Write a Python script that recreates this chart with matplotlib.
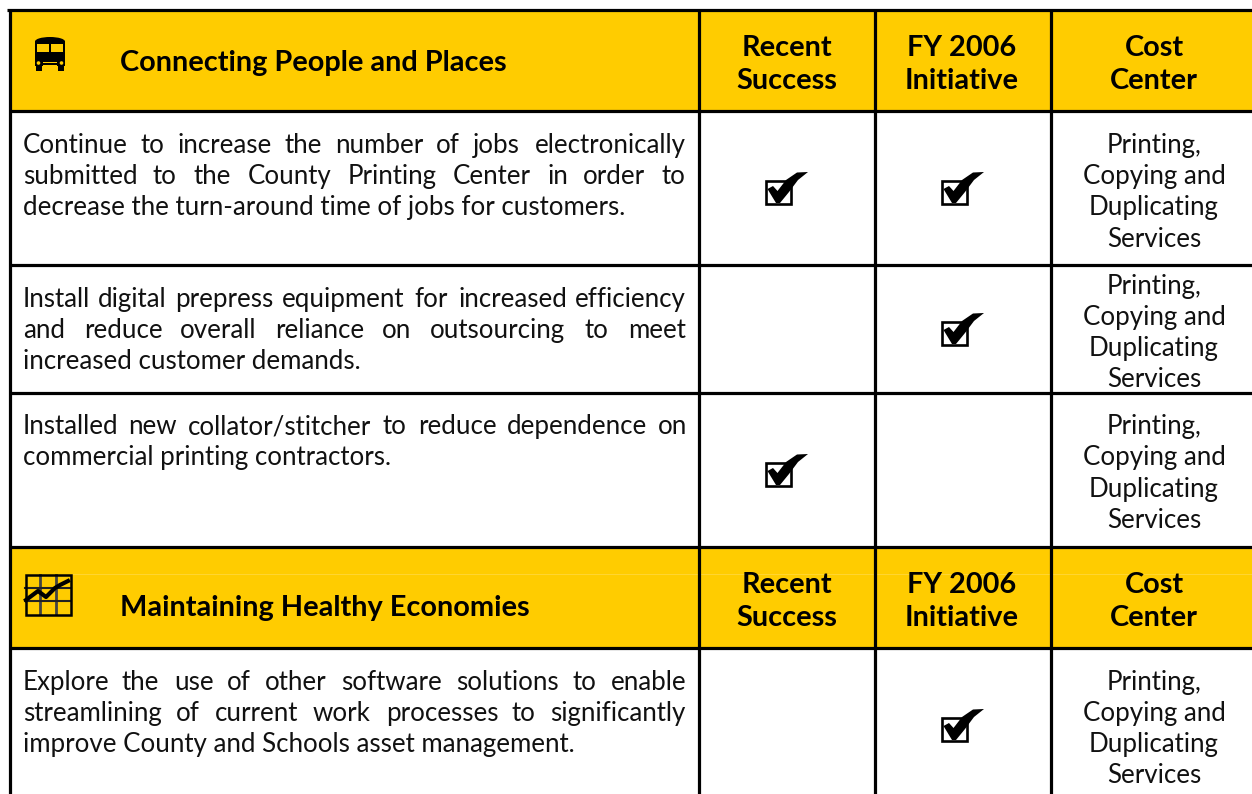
import matplotlib
matplotlib.use("Agg")
import matplotlib.pyplot as plt
from matplotlib.patches import Rectangle, Polygon, Circle, Ellipse
from matplotlib.textpath import TextPath
from matplotlib.font_manager import FontProperties

# ---- table content ----
section_titles = ["Connecting People and Places", "Maintaining Healthy Economies"]
col_headers = [["Recent", "Success"], ["FY 2006", "Initiative"], ["Cost", "Center"]]
row_lines = [
    ["Continue to increase the number of jobs electronically",
     "submitted to the County Printing Center in order to",
     "decrease the turn-around time of jobs for customers."],
    ["Install digital prepress equipment for increased efficiency",
     "and reduce overall reliance on outsourcing to meet",
     "increased customer demands."],
    ["Installed new collator/stitcher to reduce dependence on",
     "commercial printing contractors."],
    ["Explore the use of other software solutions to enable",
     "streamlining of current work processes to significantly",
     "improve County and Schools asset management."],
]
recent_success = [True, False, True, False]
fy2006_initiative = [True, True, False, True]
cost_center = ["Printing,", "Copying and", "Duplicating", "Services"]

# ---- layout (pixels) ----
W, H = 1252, 794
YELLOW = "#FFCC00"
FONT = "Lato"
BODY = 18.6
HEAD = 20.8
LINE_W = 2.3
hlines = [10, 110.7, 265, 393, 547, 648.3]
vlines = [699, 874.5, 1050.5]
col_cx = [787, 962, 1154]
head_y = [[48, 81], [585, 618]]
title_y = [63, 608]
row_text_y = [[145.5, 176.5, 207.5], [299.5, 330.5, 361.5], [426.5, 457.5], [682.5, 713.5, 744.5]]
cost_y = [[145.5, 176.5, 207.5, 239.5], [286.5, 317.5, 348.5, 379.5],
          [426.5, 457.5, 489.5, 520.5], [682.5, 713.5, 744.5, 775.5]]
check_top = [172, 313, 454, 709]
check_x = [765, 941]
LEFT, RIGHT = 23, 684

fig = plt.figure(figsize=(W / 100, H / 100), dpi=100, facecolor="white")
ax = fig.add_axes([0, 0, 1, 1])
ax.set_xlim(0, W)
ax.set_ylim(H, 0)
ax.axis("off")

ax.add_patch(Rectangle((10, 11), W, 99, fc=YELLOW, ec="none", zorder=1))
ax.add_patch(Rectangle((10, 548), W, 100, fc=YELLOW, ec="none", zorder=1))

for y in hlines:
    ax.plot([7 if y < 20 else 9, W], [y, y], color="black", lw=LINE_W, solid_capstyle="butt", zorder=3)
ax.plot([9.7, 9.7], [10, H], color="black", lw=LINE_W, solid_capstyle="butt", zorder=3)
for x in vlines:
    ax.plot([x, x], [10, H], color="black", lw=LINE_W, solid_capstyle="butt", zorder=3)


def word_w(s, size):
    return TextPath((0, 0), s, size=size, prop=FontProperties(family=FONT)).get_extents().width * 100 / 72


def justified(line, y, size):
    words = line.split(" ")
    widths = [word_w(w, size) for w in words]
    gap = (RIGHT - LEFT - sum(widths)) / (len(words) - 1)
    x = LEFT
    for w, wd in zip(words, widths):
        ax.text(x, y, w, fontsize=size, family=FONT, ha="left", va="center", color="#111111", zorder=4)
        x += wd + gap


for lines, ys in zip(row_lines, row_text_y):
    for i, (line, y) in enumerate(zip(lines, ys)):
        if i < len(lines) - 1:
            justified(line, y, BODY)
        else:
            ax.text(LEFT, y, line, fontsize=BODY, family=FONT, ha="left", va="center", color="#111111", zorder=4)

for ys in cost_y:
    for line, y in zip(cost_center, ys):
        ax.text(col_cx[2], y, line, fontsize=BODY, family=FONT, ha="center", va="center", color="#111111", zorder=4)

for title, y in zip(section_titles, title_y):
    ax.text(120, y, title, fontsize=HEAD, family=FONT, weight="bold", ha="left", va="center", color="black", zorder=4)

for ys in head_y:
    for cx, lines in zip(col_cx, col_headers):
        for line, y in zip(lines, ys):
            ax.text(cx, y, line, fontsize=HEAD, family=FONT, weight="bold", ha="center", va="center", color="black", zorder=4)


def checkbox(x0, top):
    ax.add_patch(Rectangle((x0 + 1, top + 8.5), 24.5, 23, fc="white", ec="black", lw=1.9, zorder=4))
    pts = [(2.5, 17), (8, 14), (12.5, 19), (21, 8), (32, 0.5), (43, 0), (33, 8), (24, 20), (15, 31), (11, 31)]
    ax.add_patch(Polygon([(x0 + a, top + b) for a, b in pts], closed=True, fc="black", ec="none", zorder=5))


for flags, x0 in zip([recent_success, fy2006_initiative], check_x):
    for f, top in zip(flags, check_top):
        if f:
            checkbox(x0, top)

# bus icon
ax.add_patch(Rectangle((35, 41), 30, 25, fc="black", ec="none", zorder=4))
ax.add_patch(Ellipse((50, 41.5), 30, 9, fc="black", ec="none", zorder=4))
ax.add_patch(Rectangle((36, 66), 6, 5, fc="black", ec="none", zorder=4))
ax.add_patch(Rectangle((58, 66), 6, 5, fc="black", ec="none", zorder=4))
ax.add_patch(Rectangle((37, 44), 12, 8, fc=YELLOW, ec="none", zorder=5))
ax.add_patch(Rectangle((51, 44), 12, 8, fc=YELLOW, ec="none", zorder=5))
ax.add_patch(Circle((38.5, 63), 1.8, fc=YELLOW, ec="none", zorder=5))
ax.add_patch(Circle((61.5, 63), 1.8, fc=YELLOW, ec="none", zorder=5))
ax.add_patch(Rectangle((43, 62), 14, 1, fc=YELLOW, ec="none", zorder=5))
ax.add_patch(Rectangle((43, 64.5), 14, 1, fc=YELLOW, ec="none", zorder=5))

# chart icon
ax.add_patch(Rectangle((25.5, 574.5), 45, 40, fc="none", ec="black", lw=1.8, zorder=5))
for x in [40, 56]:
    ax.plot([x, x], [575, 614], color="#444444", lw=2.0, zorder=4)
for y in [588, 601]:
    ax.plot([25, 71], [y, y], color="#222222", lw=1.5, zorder=4)
ax.plot([26, 38, 46, 55, 60, 68], [600, 591, 597, 588, 585, 581], color="black", lw=3, zorder=6)
ax.plot([72, W], [573.5, 573.5], color="#FFD633", lw=0.7, zorder=2)

fig.savefig("out.png", dpi=100, facecolor="white")
